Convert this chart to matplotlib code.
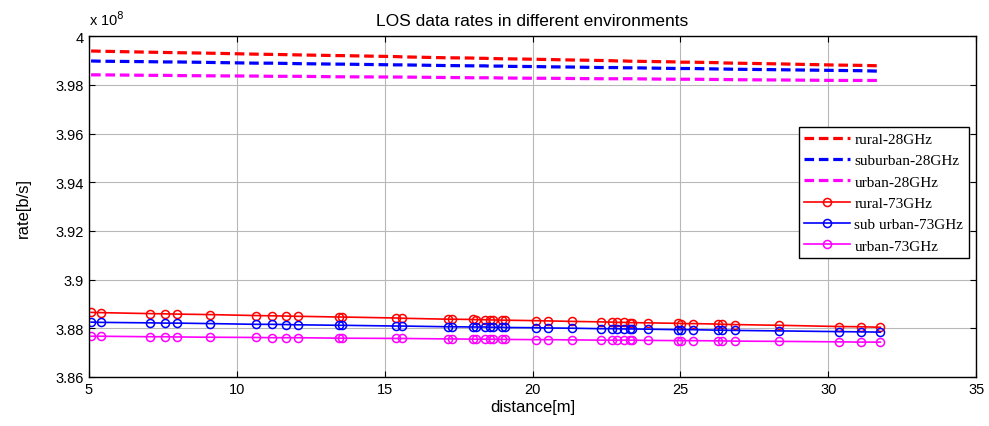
import numpy as np
import matplotlib
matplotlib.use("Agg")
import matplotlib.pyplot as plt

# -------------------- data (rate in units of 1e8 b/s)
distance = [5.07, 5.40, 7.07, 7.57, 7.98, 9.08, 10.65, 11.19, 11.66, 12.06,
            13.46, 13.56, 15.37, 15.57, 17.14, 17.27, 17.98, 18.08, 18.38, 18.55,
            18.65, 18.98, 19.08, 20.12, 20.52, 21.35, 22.32, 22.69, 22.86, 23.09,
            23.29, 23.36, 23.90, 24.93, 25.03, 25.43, 26.27, 26.40, 26.84, 28.34,
            30.35, 31.09, 31.76]

rural_28 = [3.9939, 3.9938, 3.9934, 3.9933, 3.9932, 3.9930, 3.9926, 3.9925, 3.9924, 3.9923,
            3.9920, 3.9920, 3.9916, 3.9915, 3.9911, 3.9911, 3.9910, 3.9909, 3.9909, 3.9908,
            3.9908, 3.9907, 3.9907, 3.9905, 3.9904, 3.9902, 3.9900, 3.9899, 3.9898, 3.9898,
            3.9897, 3.9897, 3.9896, 3.9894, 3.9893, 3.9893, 3.9891, 3.9890, 3.9889, 3.9886,
            3.9881, 3.9880, 3.9878]
suburban_28 = [3.9898, 3.9897, 3.9895, 3.9894, 3.9894, 3.9892, 3.9889, 3.9889, 3.9888, 3.9887,
               3.9885, 3.9885, 3.9882, 3.9882, 3.9879, 3.9879, 3.9878, 3.9878, 3.9878, 3.9877,
               3.9877, 3.9877, 3.9876, 3.9875, 3.9874, 3.9873, 3.9871, 3.9871, 3.9871, 3.9870,
               3.9870, 3.9870, 3.9869, 3.9867, 3.9867, 3.9867, 3.9865, 3.9865, 3.9864, 3.9862,
               3.9859, 3.9858, 3.9856]
urban_28 = [3.9841, 3.9841, 3.9839, 3.9839, 3.9838, 3.9837, 3.9836, 3.9835, 3.9835, 3.9835,
            3.9833, 3.9833, 3.9832, 3.9832, 3.9830, 3.9830, 3.9829, 3.9829, 3.9829, 3.9829,
            3.9829, 3.9828, 3.9828, 3.9827, 3.9827, 3.9826, 3.9825, 3.9825, 3.9825, 3.9825,
            3.9825, 3.9825, 3.9824, 3.9823, 3.9823, 3.9823, 3.9822, 3.9822, 3.9821, 3.9820,
            3.9818, 3.9818, 3.9818]

rural_73 = [3.8865, 3.8864, 3.8860, 3.8859, 3.8858, 3.8856, 3.8852, 3.8851, 3.8850, 3.8849,
            3.8846, 3.8846, 3.8842, 3.8841, 3.8837, 3.8837, 3.8836, 3.8835, 3.8835, 3.8834,
            3.8834, 3.8833, 3.8833, 3.8831, 3.8830, 3.8828, 3.8826, 3.8825, 3.8824, 3.8824,
            3.8823, 3.8823, 3.8822, 3.8820, 3.8819, 3.8819, 3.8817, 3.8816, 3.8815, 3.8812,
            3.8807, 3.8806, 3.8804]
suburban_73 = [3.8825, 3.8824, 3.8822, 3.8821, 3.8821, 3.8819, 3.8816, 3.8816, 3.8815, 3.8814,
               3.8812, 3.8812, 3.8809, 3.8809, 3.8806, 3.8806, 3.8805, 3.8805, 3.8805, 3.8804,
               3.8804, 3.8804, 3.8803, 3.8802, 3.8801, 3.8800, 3.8798, 3.8798, 3.8798, 3.8797,
               3.8797, 3.8797, 3.8796, 3.8794, 3.8794, 3.8794, 3.8792, 3.8792, 3.8791, 3.8789,
               3.8786, 3.8785, 3.8784]
urban_73 = [3.8767, 3.8767, 3.8765, 3.8765, 3.8764, 3.8763, 3.8762, 3.8761, 3.8761, 3.8761,
            3.8759, 3.8759, 3.8758, 3.8758, 3.8756, 3.8756, 3.8755, 3.8755, 3.8755, 3.8755,
            3.8755, 3.8754, 3.8754, 3.8753, 3.8753, 3.8752, 3.8751, 3.8751, 3.8751, 3.8751,
            3.8751, 3.8751, 3.8750, 3.8749, 3.8749, 3.8749, 3.8748, 3.8748, 3.8747, 3.8746,
            3.8744, 3.8743, 3.8743]

x_ticks = [5, 10, 15, 20, 25, 30, 35]
y_ticks = [3.86, 3.88, 3.9, 3.92, 3.94, 3.96, 3.98, 4.0]

# -------------------- style
plt.rcParams.update({
    "font.family": ["Liberation Sans", "DejaVu Sans"],
    "font.size": 10,
})

fig = plt.figure(figsize=(9.89, 4.27), dpi=100)
ax = fig.add_axes([0.090, 0.115, 0.897, 0.798])

dash = dict(ls=(0, (3.0, 1.5)), lw=2.3)
ax.plot(distance, rural_28, color="#ff0000", label="rural-28GHz", **dash)
ax.plot(distance, suburban_28, color="#0000ff", label="suburban-28GHz", **dash)
ax.plot(distance, urban_28, color="#ff00ff", label="urban-28GHz", **dash)

mk = dict(lw=1.2, marker="o", markersize=5.8, markerfacecolor="none", markeredgewidth=1.1)
ax.plot(distance, rural_73, color="#ff0000", label="rural-73GHz", **mk)
ax.plot(distance, suburban_73, color="#0000ff", label="sub urban-73GHz", **mk)
ax.plot(distance, urban_73, color="#ff00ff", label="urban-73GHz", **mk)

ax.set_xlim(5, 35)
ax.set_ylim(3.86, 4.0)
ax.set_xticks(x_ticks)
ax.set_xticklabels([f"{t:g}" for t in x_ticks])
ax.set_yticks(y_ticks)
ax.set_yticklabels([f"{t:g}" for t in y_ticks])
ax.tick_params(direction="in", top=True, right=True, length=4, width=0.8, labelsize=10.5)
ax.grid(True, color="#b8b8b8", lw=0.8)
ax.set_axisbelow(True)
for s in ax.spines.values():
    s.set_linewidth(1.0)

ax.set_title("LOS data rates in different environments", fontsize=12.5, pad=8)
ax.set_xlabel("distance[m]", fontsize=12, labelpad=2)
ax.set_ylabel("rate[b/s]", fontsize=12, labelpad=18)
ax.text(0.0, 1.025, r"x 10$^{8}$", transform=ax.transAxes, fontsize=10.5,
        ha="left", va="bottom")

leg = ax.legend(loc="upper right", bbox_to_anchor=(0.995, 0.742), fancybox=False,
                edgecolor="black", framealpha=1, handlelength=3.0, handletextpad=0.3,
                borderpad=0.35, labelspacing=0.5, borderaxespad=0.2,
                prop={"family": "Liberation Serif", "size": 11})
leg.get_frame().set_linewidth(1.0)

fig.savefig("out.png", dpi=100)
